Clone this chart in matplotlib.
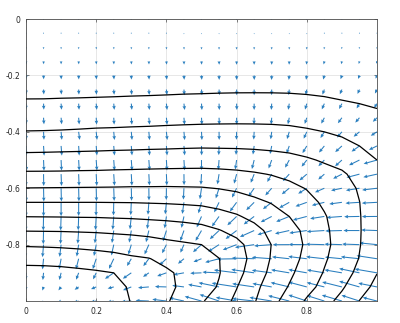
import numpy as np
import matplotlib
matplotlib.use("Agg")
import matplotlib.pyplot as plt

# grid coordinates (x along columns, depth d = -y along rows)
x_vals = [round(0.05 * i, 2) for i in range(21)]
depth_vals = [round(0.05 * i, 2) for i in range(21)]

# potential, one list per x column (top -> bottom)
pot_cols = [
    [-0.08, -0.05, 0.05, 0.21, 0.45, 0.74, 1.13, 1.57, 2.03, 2.67, 3.37, 4.16, 5.02, 6.00, 6.98, 7.96, 8.89, 9.70, 10.34, 10.70, 10.85],
    [-0.08, -0.05, 0.05, 0.22, 0.45, 0.75, 1.13, 1.58, 2.04, 2.68, 3.39, 4.16, 5.03, 6.00, 6.97, 7.95, 8.86, 9.68, 10.33, 10.68, 10.83],
    [-0.08, -0.05, 0.05, 0.22, 0.46, 0.76, 1.15, 1.60, 2.06, 2.71, 3.40, 4.17, 5.04, 6.00, 6.96, 7.94, 8.82, 9.63, 10.29, 10.62, 10.76],
    [-0.08, -0.05, 0.05, 0.22, 0.46, 0.77, 1.16, 1.62, 2.09, 2.73, 3.42, 4.19, 5.05, 6.00, 6.94, 7.91, 8.76, 9.55, 10.21, 10.50, 10.60],
    [-0.08, -0.05, 0.05, 0.23, 0.47, 0.78, 1.18, 1.64, 2.13, 2.75, 3.44, 4.20, 5.06, 6.00, 6.93, 7.88, 8.69, 9.45, 10.12, 10.35, 10.42],
    [-0.08, -0.05, 0.06, 0.23, 0.48, 0.79, 1.20, 1.65, 2.15, 2.78, 3.47, 4.23, 5.07, 5.99, 6.89, 7.82, 8.61, 9.32, 10.00, 10.15, 10.22],
    [-0.08, -0.05, 0.06, 0.24, 0.49, 0.81, 1.22, 1.67, 2.18, 2.80, 3.49, 4.25, 5.09, 5.98, 6.86, 7.76, 8.53, 9.13, 9.53, 9.94, 9.98],
    [-0.08, -0.05, 0.06, 0.24, 0.49, 0.82, 1.24, 1.69, 2.20, 2.83, 3.52, 4.27, 5.09, 5.95, 6.80, 7.68, 8.41, 9.03, 9.43, 9.59, 9.55],
    [-0.08, -0.05, 0.06, 0.25, 0.51, 0.84, 1.26, 1.72, 2.23, 2.85, 3.54, 4.29, 5.10, 5.92, 6.75, 7.57, 8.24, 8.76, 9.14, 9.21, 9.09],
    [-0.08, -0.05, 0.07, 0.26, 0.52, 0.86, 1.29, 1.74, 2.26, 2.88, 3.56, 4.30, 5.08, 5.87, 6.68, 7.45, 8.12, 8.56, 8.81, 8.82, 8.60],
    [-0.08, -0.05, 0.07, 0.26, 0.53, 0.87, 1.31, 1.76, 2.28, 2.90, 3.58, 4.30, 5.06, 5.81, 6.58, 7.32, 8.00, 8.36, 8.44, 8.42, 8.10],
    [-0.08, -0.05, 0.07, 0.27, 0.54, 0.89, 1.32, 1.77, 2.29, 2.89, 3.56, 4.26, 4.97, 5.66, 6.36, 7.05, 7.55, 8.02, 8.05, 7.92, 7.47],
    [-0.08, -0.05, 0.07, 0.27, 0.54, 0.90, 1.33, 1.78, 2.29, 2.88, 3.53, 4.19, 4.84, 5.48, 6.10, 6.70, 7.27, 7.43, 7.32, 7.04, 6.79],
    [-0.08, -0.05, 0.07, 0.27, 0.55, 0.90, 1.34, 1.78, 2.28, 2.85, 3.47, 4.09, 4.66, 5.21, 5.74, 6.31, 6.62, 6.70, 6.52, 6.24, 6.07],
    [-0.08, -0.05, 0.07, 0.27, 0.55, 0.90, 1.33, 1.77, 2.26, 2.80, 3.38, 3.96, 4.46, 4.95, 5.40, 5.74, 5.98, 5.92, 5.78, 5.56, 5.31],
    [-0.08, -0.05, 0.07, 0.27, 0.54, 0.89, 1.31, 1.74, 2.21, 2.74, 3.26, 3.79, 4.23, 4.62, 5.00, 5.35, 5.44, 5.36, 5.18, 4.94, 4.57],
    [-0.08, -0.05, 0.07, 0.26, 0.52, 0.86, 1.26, 1.68, 2.11, 2.62, 3.10, 3.53, 3.96, 4.28, 4.52, 4.78, 4.87, 4.76, 4.56, 4.31, 3.89],
    [-0.08, -0.05, 0.06, 0.24, 0.49, 0.81, 1.19, 1.60, 2.00, 2.45, 2.91, 3.30, 3.65, 3.86, 4.07, 4.17, 4.22, 4.11, 3.94, 3.71, 3.33],
    [-0.08, -0.05, 0.05, 0.21, 0.44, 0.73, 1.09, 1.47, 1.85, 2.26, 2.70, 3.12, 3.33, 3.44, 3.56, 3.60, 3.62, 3.53, 3.39, 3.12, 2.71],
    [-0.08, -0.05, 0.04, 0.19, 0.40, 0.67, 1.00, 1.33, 1.67, 2.00, 2.45, 2.71, 2.92, 3.01, 3.04, 3.05, 3.04, 2.97, 2.77, 2.38, 1.98],
    [-0.08, -0.06, 0.03, 0.16, 0.35, 0.60, 0.90, 1.19, 1.46, 1.73, 2.00, 2.25, 2.42, 2.50, 2.53, 2.52, 2.45, 2.28, 2.02, 1.75, 1.50],
]
contour_levels = [1, 2, 3, 4, 5, 6, 7, 8, 9, 10]
x_ticks = [0, 0.2, 0.4, 0.6, 0.8]
y_ticks = [-0.8, -0.6, -0.4, -0.2, 0]
x_tick_labels = ["0", "0.2", "0.4", "0.6", "0.8"]
y_tick_labels = ["-0.8", "-0.6", "-0.4", "-0.2", "0"]
aniso = 1.65  # horizontal/vertical conductivity ratio

xs = np.array(x_vals)
ys = -np.array(depth_vals)
P = np.array(pot_cols).T  # rows = depth, cols = x
X, Y = np.meshgrid(xs, ys)
gx = np.gradient(P, xs, axis=1)
gy = np.gradient(P, ys, axis=0)
U = aniso * gx
V = gy

fig = plt.figure(figsize=(4.0, 3.23), dpi=100)
ax = fig.add_axes([0.065, 0.068, 0.8775, 0.873])
ax.set_xlim(0, 1.0)
ax.set_ylim(-1.0, 0)
ax.set_xticks(x_ticks)
ax.set_xticklabels(x_tick_labels)
ax.set_yticks(y_ticks)
ax.set_yticklabels(y_tick_labels)
ax.grid(True, color="#e3e3e3", linewidth=0.6)
ax.set_axisbelow(True)
for s in ax.spines.values():
    s.set_color("#4d4d4d")
    s.set_linewidth(0.6)
ax.tick_params(direction="in", length=2.5, width=0.5, colors="#4d4d4d",
               labelcolor="#262626", labelsize=5.5, top=True, right=True, pad=4)

ax.quiver(X, Y, U, V, color="#2a7fbf", angles="xy", scale_units="xy", scale=390,
          width=0.003, headwidth=3.4, headlength=3.8, headaxislength=3.4, zorder=2)
ax.contour(X, Y, P, levels=contour_levels, colors="k", linewidths=0.9, zorder=3)

fig.savefig("out.png", dpi=100)
